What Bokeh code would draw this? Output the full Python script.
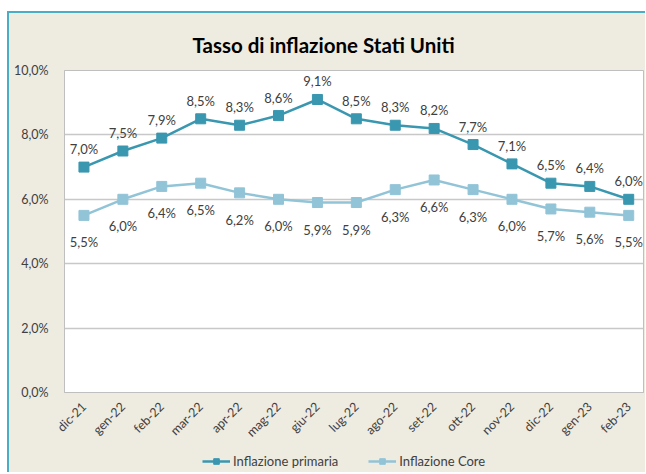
import math
from bokeh.plotting import figure
from bokeh.layouts import column
from bokeh.models import (ColumnDataSource, LabelSet, Legend, LegendItem,
                          FixedTicker, Range1d)
from bokeh.core.properties import value
from bokeh.embed import file_html
from bokeh.resources import INLINE

months = ["dic-21", "gen-22", "feb-22", "mar-22", "apr-22", "mag-22", "giu-22",
          "lug-22", "ago-22", "set-22", "ott-22", "nov-22", "dic-22", "gen-23", "feb-23"]
primaria = [7.0, 7.5, 7.9, 8.5, 8.3, 8.6, 9.1, 8.5, 8.3, 8.2, 7.7, 7.1, 6.5, 6.4, 6.0]
core = [5.5, 6.0, 6.4, 6.5, 6.2, 6.0, 5.9, 5.9, 6.3, 6.6, 6.3, 6.0, 5.7, 5.6, 5.5]
y_ticks = [0, 2, 4, 6, 8, 10]
series_names = ["Inflazione primaria", "Inflazione Core"]

C1 = "#3A97B0"
C2 = "#92C4D7"
BG = "#EEEBE1"
FONT = "Lato"
TXT = "#404040"

def fmt(v):
    return ("%.1f%%" % v).replace(".", ",")

xs = list(range(len(months)))
src1 = ColumnDataSource(dict(x=xs, y=primaria, t=[fmt(v) for v in primaria]))
src2 = ColumnDataSource(dict(x=xs, y=core, t=[fmt(v) for v in core]))

p = figure(width=636, height=437, output_backend="svg", toolbar_location=None,
           x_range=Range1d(-0.5, 14.38), y_range=Range1d(0, 10),
           title="Tasso di inflazione Stati Uniti")
p.min_border_left = 55
p.min_border_right = 2
p.min_border_top = 57
p.min_border_bottom = 58
p.background_fill_color = "white"
p.border_fill_color = BG
p.outline_line_color = "#BFBFBF"
p.outline_line_width = 1

p.title.text_font = FONT
p.title.text_font_size = "20.5px"
p.title.text_font_style = "bold"
p.title.text_color = "black"
p.title.align = "left"
p.title.offset = 128
p.title.standoff = 28

# axes
p.xaxis.ticker = FixedTicker(ticks=xs)
p.xaxis.major_label_overrides = {i: m for i, m in enumerate(months)}
p.xaxis.major_label_orientation = math.pi / 4
p.yaxis.ticker = FixedTicker(ticks=y_ticks)
p.yaxis.major_label_overrides = {t: fmt(t) for t in y_ticks}
for ax in (p.xaxis[0], p.yaxis[0]):
    ax.major_label_text_font = FONT
    ax.major_label_text_font_size = "12.5px"
    ax.major_label_text_color = TXT
    ax.major_tick_line_color = None
    ax.minor_tick_line_color = None
    ax.axis_line_color = "#BFBFBF"
p.xaxis.major_label_standoff = 6
p.yaxis.major_label_standoff = 10

p.xgrid.grid_line_color = None
p.ygrid.grid_line_color = "#C8C8C8"
p.ygrid.grid_line_width = 1.5

l1 = p.line("x", "y", source=src1, line_color=C1, line_width=2.5)
s1 = p.scatter("x", "y", source=src1, marker="square", size=10,
               fill_color=C1, line_color=C1)
l2 = p.line("x", "y", source=src2, line_color=C2, line_width=2.5)
s2 = p.scatter("x", "y", source=src2, marker="square", size=10,
               fill_color=C2, line_color=C2)

lab1 = LabelSet(x="x", y="y", text="t", source=src1, y_offset=18,
                text_align="center", text_baseline="middle",
                text_font=value(FONT), text_font_size="13px", text_color=TXT)
lab2 = LabelSet(x="x", y="y", text="t", source=src2, y_offset=-27,
                text_align="center", text_baseline="middle",
                text_font=value(FONT), text_font_size="13px", text_color=TXT)
p.add_layout(lab1)
p.add_layout(lab2)

# legend strip (separate small figure under the chart); its glyph renderers
# reuse the series sources but lie outside its visible range
pl = figure(width=636, height=22, output_backend="svg", toolbar_location=None,
            x_range=Range1d(100, 101), y_range=Range1d(100, 101), min_border=0)
pl.min_border_left = 55
pl.min_border_right = 2
pl.xaxis.visible = False
pl.yaxis.visible = False
pl.grid.grid_line_color = None
pl.outline_line_color = None
pl.background_fill_color = BG
pl.border_fill_color = BG
ll1 = pl.line("x", "y", source=src1, line_color=C1, line_width=2.5)
ls1 = pl.scatter("x", "y", source=src1, marker="square", size=10,
                 fill_color=C1, line_color=C1)
ll2 = pl.line("x", "y", source=src2, line_color=C2, line_width=2.5)
ls2 = pl.scatter("x", "y", source=src2, marker="square", size=10,
                 fill_color=C2, line_color=C2)
legend = Legend(items=[LegendItem(label=series_names[0], renderers=[ll1, ls1]),
                       LegendItem(label=series_names[1], renderers=[ll2, ls2])],
                orientation="horizontal", location=(138, 3),
                background_fill_alpha=0, border_line_color=None,
                label_text_font=FONT, label_text_font_size="13px",
                label_text_color=TXT, glyph_width=28, glyph_height=14,
                label_height=14, label_standoff=3,
                spacing=30, padding=2, margin=0)
pl.add_layout(legend)

layout = column(p, pl, spacing=0)
layout.styles = {"border-left": "2px solid #4BACC6", "border-top": "2px solid #4BACC6",
                 "margin-top": "11px", "margin-left": "7px",
                 "background-color": BG}

open("out.html", "w").write(file_html(layout, INLINE))
